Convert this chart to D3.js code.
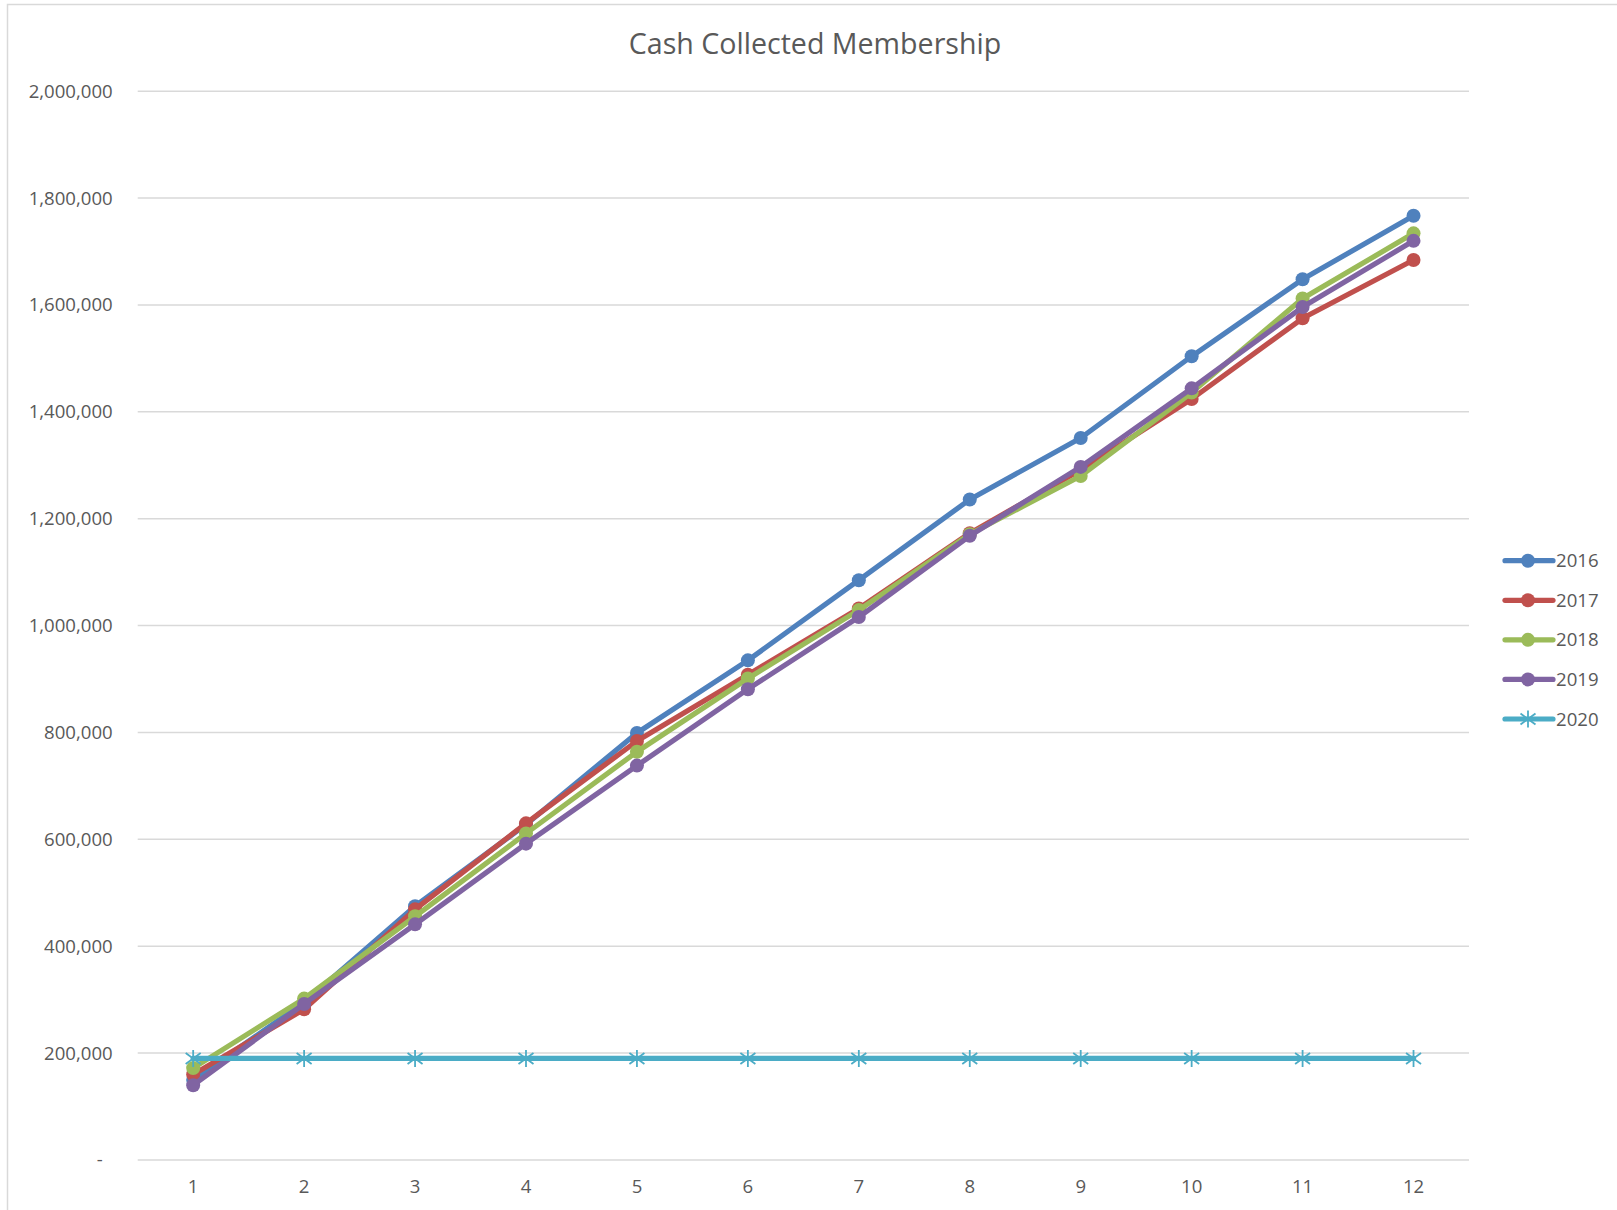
<!DOCTYPE html>
<html>
<head>
<meta charset="utf-8">
<script src="https://cdn.jsdelivr.net/npm/d3@7"></script>
<style>
  html, body { margin: 0; padding: 0; background: #ffffff; }
  svg { display: block; font-family: "Open Sans", "Liberation Sans", sans-serif; }
</style>
</head>
<body>
<svg id="chart" width="1617" height="1210"></svg>
<script>
const chartTitle = "Cash Collected Membership";
const months = [1, 2, 3, 4, 5, 6, 7, 8, 9, 10, 11, 12];
const seriesNames = ["2016", "2017", "2018", "2019", "2020"];
const values2016 = [150000, 295000, 475000, 628000, 799000, 935000, 1085000, 1236000, 1351000, 1504000, 1648000, 1767000];
const values2017 = [160000, 282000, 469000, 630000, 784000, 908000, 1032000, 1173000, 1291000, 1424000, 1575000, 1684000];
const values2018 = [172000, 302000, 456000, 611000, 764000, 901000, 1029000, 1171000, 1280000, 1436000, 1612000, 1734000];
const values2019 = [140000, 292000, 441000, 592000, 738000, 881000, 1016000, 1168000, 1297000, 1444000, 1596000, 1720000];
const values2020 = [190000, 190000, 190000, 190000, 190000, 190000, 190000, 190000, 190000, 190000, 190000, 190000];
const yTickValues = [0, 200000, 400000, 600000, 800000, 1000000, 1200000, 1400000, 1600000, 1800000, 2000000];
const seriesColors = ["#4F81BD", "#C0504D", "#9BBB59", "#8064A2", "#4BACC6"];
const seriesMarkers = ["circle", "circle", "circle", "circle", "star"];

const seriesValues = [values2016, values2017, values2018, values2019, values2020];
const series = seriesNames.map((name, i) => ({
  name, color: seriesColors[i], marker: seriesMarkers[i],
  points: months.map((m, j) => ({ m, v: seriesValues[i][j] }))
}));

const svg = d3.select("#chart");
const textColor = "#595959";
const gridColor = "#d9d9d9";

// outer chart border
svg.append("rect")
  .attr("x", 7.5).attr("y", 4.5).attr("width", 1700).attr("height", 1300)
  .attr("fill", "none").attr("stroke", gridColor).attr("stroke-width", 1.5);

const plotLeft = 137.7, plotRight = 1469, plotTop = 91.2, plotBottom = 1160;

const x = d3.scaleBand().domain(months).range([plotLeft, plotRight]);
const cx = m => x(m) + x.bandwidth() / 2;
const y = d3.scaleLinear().domain([0, 2000000]).range([plotBottom, plotTop]);

// gridlines
svg.append("g").selectAll("line").data(yTickValues).join("line")
  .attr("x1", plotLeft).attr("x2", plotRight)
  .attr("y1", d => y(d)).attr("y2", d => y(d))
  .attr("stroke", gridColor).attr("stroke-width", 1.5);

// y axis
const fmt = d3.format(",");
const yAxis = svg.append("g")
  .attr("transform", `translate(${plotLeft},0)`)
  .call(d3.axisLeft(y).tickValues(yTickValues).tickSize(0).tickPadding(25)
    .tickFormat(d => d === 0 ? "-" : fmt(d)));
yAxis.select(".domain").remove();
yAxis.selectAll("text")
  .attr("fill", textColor).attr("font-size", 18.6)
  .attr("font-family", "Open Sans, sans-serif")
  .attr("dx", d => d === 0 ? -10 : 0);

// x axis
const xAxis = svg.append("g")
  .attr("transform", `translate(0,${plotBottom})`)
  .call(d3.axisBottom(x).tickSize(0).tickPadding(20));
xAxis.select(".domain").remove();
xAxis.selectAll("text")
  .attr("fill", textColor).attr("font-size", 18.6)
  .attr("font-family", "Open Sans, sans-serif");

// title
svg.append("text")
  .attr("x", 815).attr("y", 54)
  .attr("text-anchor", "middle")
  .attr("fill", textColor).attr("font-size", 28.6)
  .text(chartTitle);

const line = d3.line().x(d => cx(d.m)).y(d => y(d.v));
const starPath = "M0,-8.5V8.5M-7.5,-5.5L7.5,5.5M-7.5,5.5L7.5,-5.5";

function drawMarker(g, type, color) {
  if (type === "circle") {
    g.append("circle").attr("r", 7).attr("fill", color);
  } else {
    g.append("path").attr("d", starPath).attr("stroke", color)
      .attr("stroke-width", 1.8).attr("fill", "none");
  }
}

// series
series.forEach(s => {
  const g = svg.append("g");
  g.append("path").datum(s.points)
    .attr("d", line).attr("fill", "none")
    .attr("stroke", s.color).attr("stroke-width", 5.2)
    .attr("stroke-linejoin", "round").attr("stroke-linecap", "round");
  g.selectAll("g.mk").data(s.points).join("g")
    .attr("class", "mk")
    .attr("transform", d => `translate(${cx(d.m)},${y(d.v)})`)
    .each(function () { drawMarker(d3.select(this), s.marker, s.color); });
});

// legend
const legendRowY = d3.scalePoint().domain(seriesNames).range([560.7, 719]);
const legend = svg.append("g");
series.forEach(s => {
  const ly = legendRowY(s.name);
  const g = legend.append("g").attr("transform", `translate(0,${ly})`);
  g.append("line").attr("x1", 1505).attr("x2", 1553).attr("y1", 0).attr("y2", 0)
    .attr("stroke", s.color).attr("stroke-width", 5.2).attr("stroke-linecap", "round");
  const mg = g.append("g").attr("transform", "translate(1528,0)");
  drawMarker(mg, s.marker, s.color);
  g.append("text").attr("x", 1556).attr("y", 6.5)
    .attr("fill", textColor).attr("font-size", 18.6)
    .text(s.name);
});
</script>
</body>
</html>
